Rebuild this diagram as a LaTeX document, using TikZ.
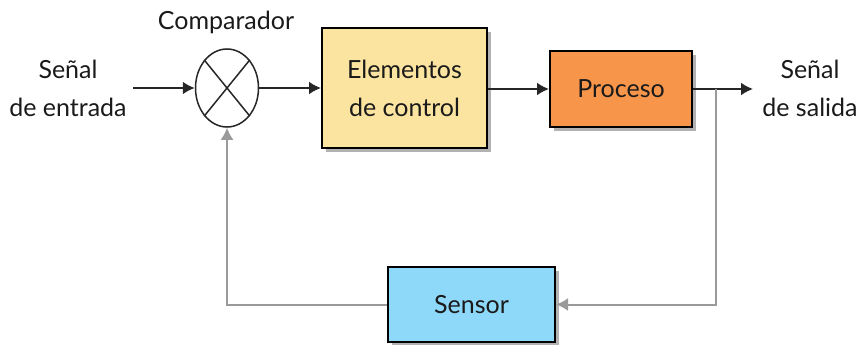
\documentclass[tikz,border=0pt]{standalone}
\usepackage{fontspec}
\setmainfont{Lato}
\usetikzlibrary{arrows.meta,shapes.geometric,shadows}
\definecolor{ylw}{HTML}{FAE4A0}
\definecolor{org}{HTML}{F7964A}
\definecolor{blu}{HTML}{8ED9F9}
\definecolor{txt}{HTML}{1A1A1A}
\definecolor{fbgray}{HTML}{9A9A9A}
\begin{document}
\begin{tikzpicture}[x=1pt,y=-1pt,
  lbl/.style={text=txt,font=\fontsize{25}{38}\selectfont,align=center,inner sep=2pt},
  blk/.style={draw=black,line width=2pt,text=txt,font=\fontsize{25}{38}\selectfont,align=center,
    drop shadow={shadow xshift=4pt,shadow yshift=-4pt,fill=black!30,opacity=1}},
  sig/.style={line width=2pt,draw=black!85},
  fb/.style={line width=2pt,draw=fbgray},
  tip/.style={-{Latex[length=12pt,width=13pt]}}]
\useasboundingbox (0,0) rectangle (864,345);
\node[ellipse,draw=black!85,line width=1.5pt,minimum width=63pt,minimum height=78pt] (cmp) at (227,88) {};
\draw[line width=1.5pt,black!85] (cmp.north west) -- (cmp.south east) (cmp.north east) -- (cmp.south west);
\node[lbl] (cmplbl) at (226,22) {Comparador};
\node[lbl] (inp) at (68,88) {Señal\\de entrada};
\node[lbl] (outp) at (810,88) {Señal\\de salida};
\node[blk,fill=ylw,minimum width=165pt,minimum height=120pt] (ctrl) at (404.5,88) {Elementos\\de control};
\node[blk,fill=org,minimum width=142pt,minimum height=76pt] (proc) at (621,89) {Proceso};
\node[blk,fill=blu,minimum width=167pt,minimum height=75pt] (sens) at (471.5,304.5) {Sensor};
\coordinate (in0) at (133,88);
\coordinate (br) at (716,89);
\coordinate (out) at (753,89);
\draw[sig,tip] (in0) -- (cmp.west);
\draw[sig,tip] (cmp.east) -- (cmp.east -| ctrl.west);
\draw[sig,tip] (ctrl.east |- proc.west) -- (proc.west);
\draw[sig,tip] (proc.east) -- (out);
\draw[fb,tip] (br) |- (sens.east);
\draw[fb,tip] (sens.west) -| (cmp.south);
\end{tikzpicture}
\end{document}
